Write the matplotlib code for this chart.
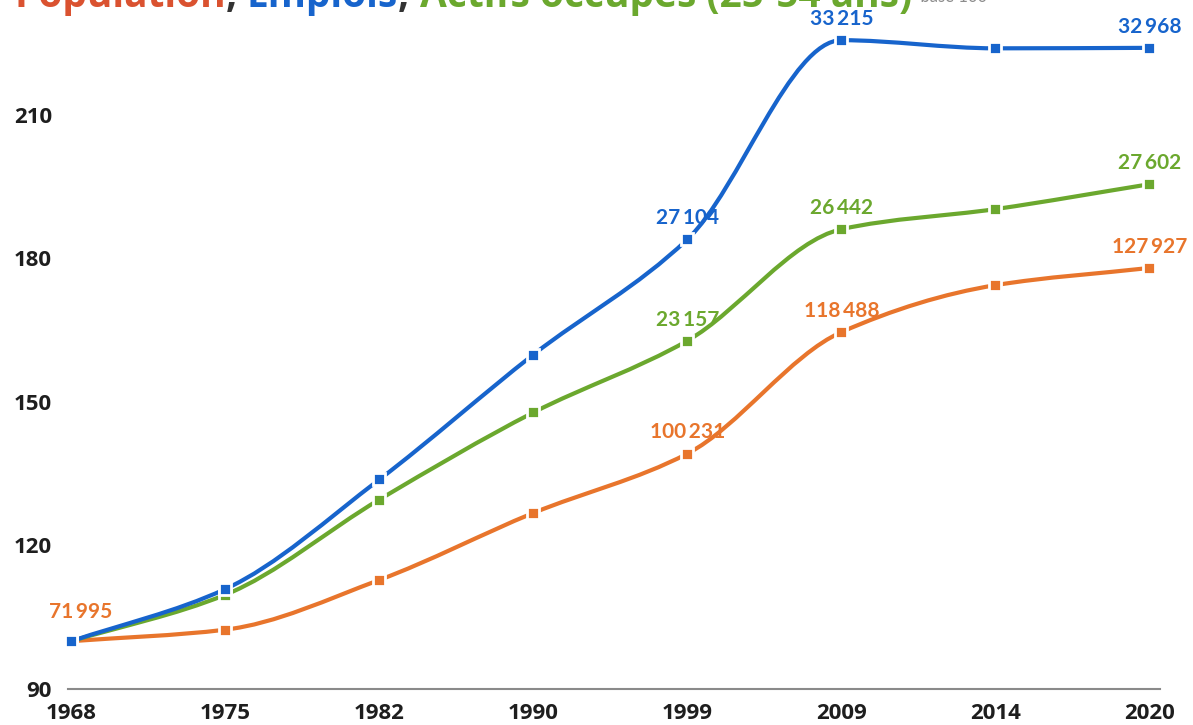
import numpy as np
import matplotlib
matplotlib.use("Agg")
import matplotlib.pyplot as plt
from matplotlib.path import Path
from matplotlib.patches import PathPatch

# data: index base 100 in 1968, raw counts for labelled years
years = ["1968", "1975", "1982", "1990", "1999", "2009", "2014", "2020"]
population = [100, 102.4, 112.8, 126.8, 139.2, 164.6, 174.4, 178.0]
emplois = [100, 110.9, 133.8, 159.9, 184.0, 225.6, 223.9, 224.0]
actifs = [100, 109.7, 129.6, 147.8, 162.8, 186.1, 190.3, 195.5]

pop_labels = {0: 71995, 4: 100231, 5: 118488, 7: 127927}
emp_labels = {4: 27104, 5: 33215, 7: 32968}
act_labels = {4: 23157, 5: 26442, 7: 27602}

yticks = [90, 120, 150, 180, 210]

C_POP = "#E8752C"
C_EMP = "#1764CC"
C_ACT = "#6BA82E"
C_POP_T = "#DA5230"

plt.rcParams["font.family"] = ["Lato", "DejaVu Sans"]


def pchip_slopes(x, y):
    # Fritsch-Carlson tangents, used only to shape the smooth line
    x = np.asarray(x, float)
    y = np.asarray(y, float)
    h = np.diff(x)
    d = np.diff(y) / h
    m = np.zeros_like(y)
    m[0], m[-1] = d[0], d[-1]
    for i in range(1, len(y) - 1):
        if d[i - 1] * d[i] <= 0:
            m[i] = 0
        else:
            w1 = 2 * h[i] + h[i - 1]
            w2 = h[i] + 2 * h[i - 1]
            m[i] = (w1 + w2) / (w1 / d[i - 1] + w2 / d[i])
    return m


def smooth_path(x, y):
    m = pchip_slopes(x, y)
    verts = [(x[0], y[0])]
    codes = [Path.MOVETO]
    for i in range(len(x) - 1):
        h = x[i + 1] - x[i]
        verts += [(x[i] + h / 3, y[i] + m[i] * h / 3),
                  (x[i + 1] - h / 3, y[i + 1] - m[i + 1] * h / 3),
                  (x[i + 1], y[i + 1])]
        codes += [Path.CURVE4] * 3
    return Path(verts, codes)


fig = plt.figure(figsize=(11.93, 7.25), dpi=100)
ax = fig.add_axes([56 / 1193, 36 / 725, 1132 / 1193, 689 / 725])

xs = np.arange(len(years))
for vals, col, labs in [(population, C_POP, pop_labels),
                        (actifs, C_ACT, act_labels),
                        (emplois, C_EMP, emp_labels)]:
    ax.add_patch(PathPatch(smooth_path(xs, vals), facecolor="none",
                           edgecolor=col, lw=3, capstyle="round", zorder=2))
    ax.plot(xs, vals, ls="none", marker="s", ms=9, mfc=col, mec="white",
            mew=2, zorder=3)
    for i, v in labs.items():
        txt = f"{v:,}".replace(",", "\u2009")
        off = (7, 14) if i == 0 else (0, 8)
        ax.annotate(txt, (xs[i], vals[i]), xytext=off,
                    textcoords="offset points", ha="center", va="bottom",
                    color=col, fontsize=15, fontweight="bold", zorder=4)

ax.set_xlim(-0.1, 7.25)
ax.set_ylim(90, 234)
ax.set_xticks(xs)
ax.set_xticklabels(years)
ax.set_yticks(yticks)
for lab in ax.get_xticklabels() + ax.get_yticklabels():
    lab.set_fontweight("bold")
    lab.set_color("#1e1e1e")
    lab.set_fontsize(16)
    lab.set_family(["Open Sans", "DejaVu Sans"])
ax.tick_params(axis="x", length=0, pad=10)
ax.tick_params(axis="y", length=0, pad=3)
for s in ["top", "right", "left"]:
    ax.spines[s].set_visible(False)
ax.spines["bottom"].set_color("#8a8a8a")
ax.spines["bottom"].set_linewidth(1.5)
ax.spines["bottom"].set_bounds(-0.02, 7.07)

# title, cut at the top edge like the scan
parts = [("Population", C_POP_T), (", ", "#333333"), ("Emplois", C_EMP),
         (", ", "#333333"), ("Actifs occupés (25-54 ans)", C_ACT)]
t = fig.text(14 / 1193, 1 - 7 / 725, parts[0][0], color=parts[0][1],
             fontsize=28, fontweight="bold", va="baseline", ha="left",
             family=["Open Sans", "DejaVu Sans"])
for s, c in parts[1:]:
    t = ax.annotate(s, xy=(1, 0), xycoords=t, va="bottom", ha="left",
                    color=c, fontsize=28, fontweight="bold",
                    family=["Open Sans", "DejaVu Sans"],
                    annotation_clip=False)
ax.annotate("  base 100", xy=(1, 0), xycoords=t, xytext=(0, 8),
            textcoords="offset points", va="bottom", ha="left",
            color="#8c8c8c", fontsize=12, annotation_clip=False)

fig.savefig("out.png", dpi=100)
